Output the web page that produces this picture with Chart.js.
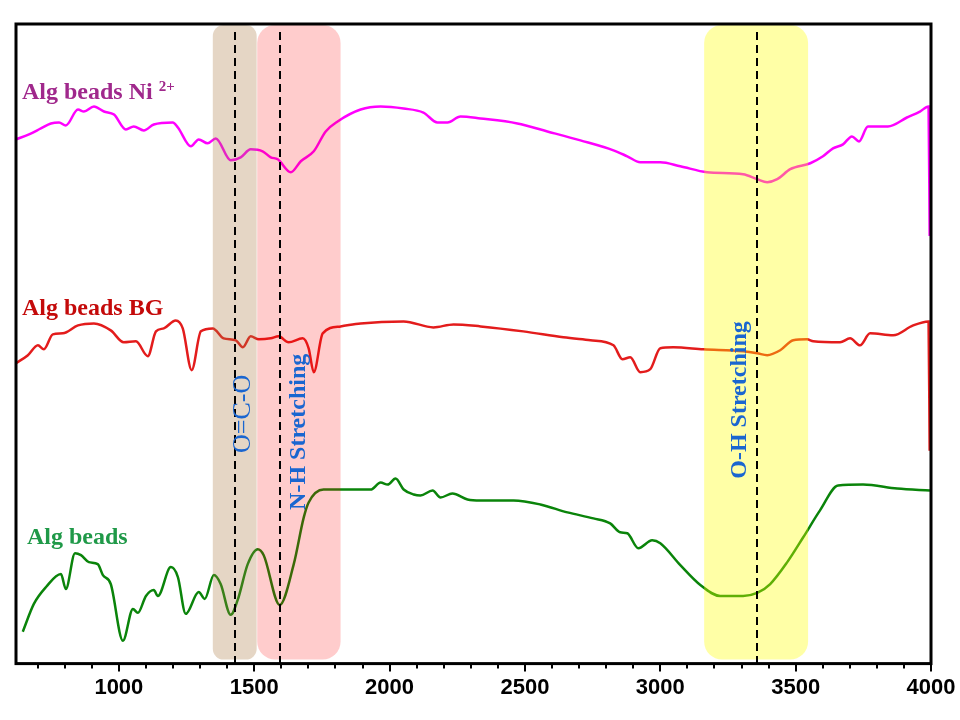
<!DOCTYPE html>
<html>
<head>
<meta charset="utf-8">
<script src="https://cdn.jsdelivr.net/npm/chart.js@4"></script>
<style>
  body { margin: 0; background: #fff; }
  canvas { display: block; }
</style>
</head>
<body>
<canvas id="ftir" width="960" height="720"></canvas>
<script>
// wavenumber (cm-1) and offset transmittance (a.u.)
const algWn = [645, 686, 731, 786, 804, 838, 860, 889, 922, 941, 970, 1015, 1052, 1070, 1100, 1129, 1144, 1192, 1218, 1247, 1295, 1317, 1351, 1376, 1413, 1439, 1476, 1513, 1535, 1594, 1646, 1683, 1701, 1756, 1893, 1930, 1967, 1993, 2022, 2052, 2089, 2114, 2159, 2188, 2232, 2288, 2336, 2458, 2557, 2657, 2753, 2815, 2852, 2878, 2919, 2970, 3000, 3074, 3148, 3221, 3306, 3358, 3406, 3469, 3528, 3590, 3657, 3749, 3875, 3996];
const algT = [32, 60, 77, 90, 75, 111, 109, 102, 100, 89, 80, 23, 55, 51, 68, 74, 68, 97, 87, 50, 72, 65, 89, 80, 49, 64, 100, 115, 109, 59, 100, 147, 162, 175, 175, 175, 182, 180, 186, 175, 170, 169, 174, 167, 171, 165, 164, 164, 160, 152, 146, 141, 132, 131, 116, 124, 121, 99, 79, 68, 68, 71, 80, 102, 127, 154, 179, 180, 176, 174];

const bgWn = [620, 664, 701, 723, 756, 793, 849, 908, 970, 1018, 1063, 1107, 1137, 1166, 1210, 1236, 1269, 1303, 1347, 1387, 1432, 1458, 1487, 1517, 1561, 1590, 1627, 1679, 1701, 1720, 1753, 1819, 1893, 2052, 2162, 2236, 2336, 2494, 2642, 2742, 2827, 2860, 2889, 2926, 2963, 3000, 3048, 3159, 3306, 3358, 3395, 3443, 3491, 3542, 3565, 3664, 3701, 3738, 3775, 3860, 3934, 3991, 3995];
const bgT = [302, 310, 320, 316, 331, 332, 340, 342, 335, 323, 324, 309, 334, 337, 345, 337, 295, 334, 337, 327, 325, 318, 329, 326, 327, 329, 323, 327, 317, 293, 332, 339, 342, 344, 338, 341, 339, 334, 328, 325, 320, 306, 308, 293, 296, 317, 318, 316, 314, 312, 310, 315, 325, 326, 324, 323, 327, 320, 332, 330, 340, 344, 214];

const niWn = [620, 668, 712, 749, 779, 804, 849, 871, 908, 945, 982, 1026, 1055, 1092, 1129, 1199, 1218, 1266, 1295, 1328, 1358, 1413, 1450, 1487, 1531, 1561, 1587, 1635, 1672, 1720, 1764, 1808, 1893, 1967, 2052, 2125, 2177, 2214, 2262, 2336, 2472, 2583, 2705, 2827, 2878, 2926, 3000, 3074, 3173, 3306, 3358, 3395, 3432, 3480, 3554, 3601, 3638, 3675, 3708, 3734, 3767, 3841, 3911, 3959, 3991, 3995];
const niT = [527, 532, 538, 543, 544, 541, 557, 555, 560, 555, 552, 537, 540, 536, 542, 544, 539, 520, 527, 523, 528, 506, 509, 517, 515, 509, 507, 494, 505, 515, 535, 545, 557, 560, 558, 554, 544, 544, 550, 548, 543, 535, 526, 516, 510, 504, 504, 500, 494, 492, 487, 484, 487, 497, 503, 510, 518, 522, 530, 525, 540, 540, 549, 555, 560, 430];

// highlighted regions and peak markers (cm-1)
const bandFrom = [1347, 1511, 3162];
const bandTo = [1509, 1819, 3546];
const bandFill = ["rgba(168,118,62,0.3)", "rgba(255,0,0,0.2)", "rgba(255,255,0,0.35)"];
const peakLines = [1428, 1594, 3357];

function pts(xs, ys) {
  return xs.map((x, i) => ({ x: x, y: ys[i] }));
}

const overlay = {
  id: "overlay",
  afterDatasetsDraw(chart) {
    const c = chart.ctx;
    const a = chart.chartArea;
    const xs = chart.scales.x;
    const ys = chart.scales.y;

    // bands over the curves
    bandFrom.forEach((v, i) => {
      const x0 = xs.getPixelForValue(v);
      const x1 = xs.getPixelForValue(bandTo[i]);
      const r = Math.min((x1 - x0) / 4, 18);
      c.save();
      c.fillStyle = bandFill[i];
      c.beginPath();
      c.roundRect(x0, a.top + 1, x1 - x0, a.bottom - a.top - 5, r);
      c.fill();
      c.restore();
    });

    // frame
    c.save();
    c.strokeStyle = "#000";
    c.lineWidth = 3;
    c.strokeRect(a.left, a.top, a.right - a.left, a.bottom - a.top);

    // minor ticks
    c.lineWidth = 2;
    c.beginPath();
    for (let v = 700; v < 4000; v += 100) {
      if (v % 500 === 0) continue;
      const px = Math.round(xs.getPixelForValue(v));
      c.moveTo(px, a.bottom);
      c.lineTo(px, a.bottom + 5);
    }
    c.stroke();

    // dashed peak lines
    c.setLineDash([8, 5]);
    c.lineWidth = 2;
    peakLines.forEach(v => {
      const px = Math.round(xs.getPixelForValue(v));
      c.beginPath();
      c.moveTo(px, a.top + 8);
      c.lineTo(px, a.bottom + 2);
      c.stroke();
    });
    c.setLineDash([]);

    // series names
    c.textBaseline = "alphabetic";
    c.textAlign = "left";
    c.font = "bold 24px 'Liberation Serif'";
    c.fillStyle = "#a0288c";
    c.fillText("Alg beads Ni", a.left + 6, ys.getPixelForValue(568));
    const w = c.measureText("Alg beads Ni").width;
    c.font = "bold 15px 'Liberation Serif'";
    c.fillText("2+", a.left + 6 + w + 6, ys.getPixelForValue(576));
    c.font = "bold 24px 'Liberation Serif'";
    c.fillStyle = "#c40a0a";
    c.fillText("Alg beads BG", a.left + 6, ys.getPixelForValue(350));
    c.fillStyle = "#1f9948";
    c.fillText("Alg beads", a.left + 11, ys.getPixelForValue(120));

    // vertical band labels
    c.fillStyle = "#1a66d0";
    c.textAlign = "center";
    c.textBaseline = "middle";
    const vlabel = (txt, xv, yv, font) => {
      c.save();
      c.translate(xs.getPixelForValue(xv), ys.getPixelForValue(yv));
      c.rotate(-Math.PI / 2);
      c.font = font;
      c.fillText(txt, 0, 0);
      c.restore();
    };
    vlabel("O=C-O", 1461, 251, "26px 'Liberation Serif'");
    vlabel("N-H Stretching", 1664, 233, "bold 24px 'Liberation Serif'");
    vlabel("O-H Stretching", 3295, 265, "bold 24px 'Liberation Serif'");
    c.restore();
  }
};

new Chart(document.getElementById("ftir"), {
  type: "line",
  data: {
    datasets: [
      { label: "Alg beads Ni 2+", data: pts(niWn, niT), borderColor: "#ff00ff" },
      { label: "Alg beads BG", data: pts(bgWn, bgT), borderColor: "#e31c1c" },
      { label: "Alg beads", data: pts(algWn, algT), borderColor: "#0a840a" }
    ]
  },
  options: {
    responsive: false,
    animation: false,
    layout: { padding: { left: 16, top: 24, right: 29, bottom: 16 } },
    elements: {
      point: { radius: 0 },
      line: { borderWidth: 2.5, cubicInterpolationMode: "monotone" }
    },
    plugins: { legend: { display: false }, tooltip: { enabled: false } },
    scales: {
      x: {
        type: "linear",
        min: 620,
        max: 4000,
        border: { display: false },
        grid: {
          drawOnChartArea: false,
          tickLength: 8,
          lineWidth: 2,
          color: ctx => (ctx.tick && ctx.tick.value % 500 === 0 ? "#000" : "rgba(0,0,0,0)")
        },
        ticks: {
          stepSize: 100,
          autoSkip: false,
          maxRotation: 0,
          padding: 3,
          color: "#000",
          font: { family: "'Liberation Sans'", weight: "bold", size: 22 },
          callback: v => (v % 500 === 0 ? String(v) : "")
        }
      },
      y: { display: false, min: 0, max: 643 }
    }
  },
  plugins: [overlay]
});
</script>
</body>
</html>
